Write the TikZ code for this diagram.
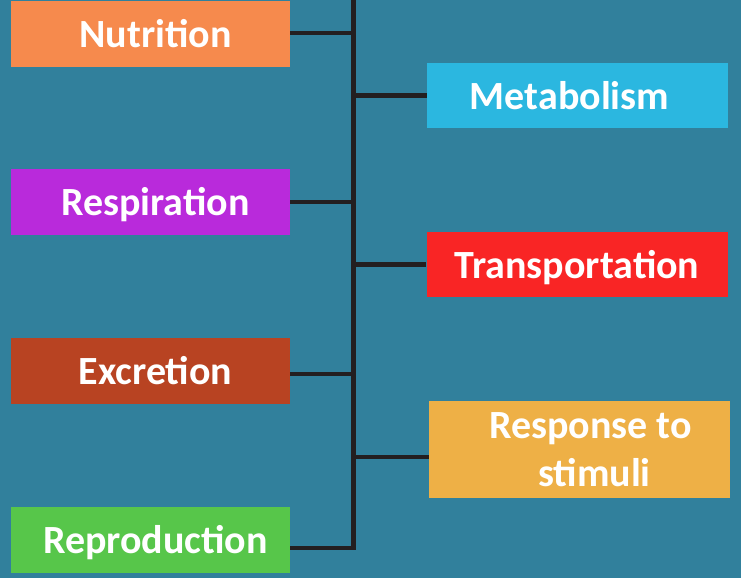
\documentclass[tikz,border=0pt]{standalone}
\usepackage{fontspec}
\setmainfont{Carlito}
\definecolor{bgc}{HTML}{31809C}
\definecolor{cNut}{HTML}{F68A4D}
\definecolor{cMet}{HTML}{2BB7E0}
\definecolor{cRes}{HTML}{B92ADB}
\definecolor{cTra}{HTML}{F92525}
\definecolor{cExc}{HTML}{B84322}
\definecolor{cRsp}{HTML}{EEB046}
\definecolor{cRep}{HTML}{57C64A}
\definecolor{lineC}{HTML}{231F20}
\begin{document}
\begin{tikzpicture}[x=1pt,y=-1pt,
  box/.style={rectangle, inner sep=0pt, text=white, align=center,
    font=\fontsize{40}{48}\selectfont\bfseries},
  oneline/.style={text height=27pt, text depth=0pt},
  lbox/.style={box, oneline, minimum width=279pt, minimum height=66pt},
  rbox/.style={box, minimum width=301pt, minimum height=65pt},
  conn/.style={draw=lineC, line width=4.2pt},
  spine/.style={draw=lineC, line width=5pt}]
\fill[bgc] (0,0) rectangle (741,578);
\useasboundingbox (0,0) rectangle (741,578);
% left boxes
\node[lbox, fill=cNut] (nut) at (150.5,34) {\hspace*{10pt}Nutrition};
\node[lbox, fill=cRes] (res) at (150.5,202) {\hspace*{10pt}Respiration};
\node[lbox, fill=cExc] (exc) at (150.5,370.5) {\hspace*{10pt}Excretion};
\node[lbox, fill=cRep] (rep) at (150.5,540) {\hspace*{10pt}Reproduction};
% right boxes
\node[rbox, oneline, fill=cMet] (met) at (577.5,95.5) {Metabolism\hspace*{16pt}};
\node[rbox, oneline, fill=cTra] (tra) at (577,264.5) {Transportation};
\node[rbox, fill=cRsp, minimum height=97pt] (rsp) at (579.5,449.5) {\hspace*{22pt}Response to\\\hspace*{30pt}stimuli};
% spine
\coordinate (top) at (353,0);
\coordinate (bot) at (353,548);
\draw[spine] (top) -- ([yshift=2.1pt]bot);
% connectors
\draw[conn] (nut.east |- 0,33) -- (top |- 0,33);
\draw[conn] (res.east) -- (top |- res.east);
\draw[conn] (exc.east |- 0,374) -- (top |- 0,374);
\draw[conn] (rep.east |- bot) -- ([xshift=2.5pt]bot);
\draw[conn] (top |- met.west) -- (met.west);
\draw[conn] (top |- tra.west) -- (tra.west);
\draw[conn] (top |- 0,457) -- (rsp.west |- 0,457);
\end{tikzpicture}
\end{document}
